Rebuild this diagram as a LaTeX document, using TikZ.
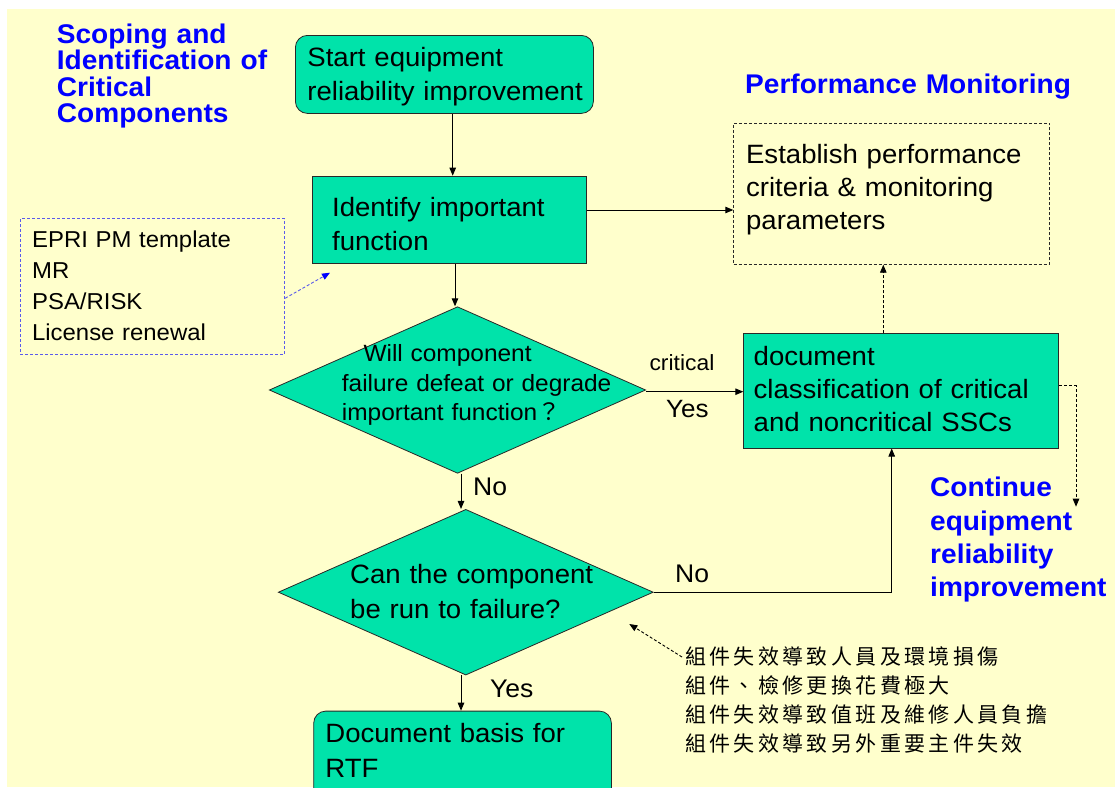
\documentclass[tikz,border=0pt]{standalone}
\usepackage{fontspec}
\setmainfont{Liberation Sans}[FakeStretch=1.04]
\newfontfamily\cjk{Noto Sans CJK TC}
\newfontfamily\cjknote{Noto Sans CJK TC}[LetterSpace=16]
\usetikzlibrary{shapes.geometric,arrows.meta}
\definecolor{pagebg}{RGB}{255,255,204}
\definecolor{boxfill}{RGB}{0,227,170}
\definecolor{boxline}{RGB}{40,40,40}
\definecolor{headblue}{RGB}{0,0,255}
\definecolor{refblue}{RGB}{90,90,235}
\begin{document}
\begin{tikzpicture}[x=1pt,y=-1pt,
  arr/.style={draw=black, line width=0.9pt, -{Triangle[length=8pt,width=6.5pt]}},
  darr/.style={arr, dash pattern=on 3pt off 2pt},
  refarr/.style={draw=refblue, line width=0.9pt, dash pattern=on 3pt off 2pt,
    -{Triangle[length=8pt,width=6.5pt,fill=headblue,color=headblue]}},
  box/.style={rectangle, draw=boxline, fill=boxfill, line width=0.8pt,
    anchor=north west, inner ysep=0pt, align=left,
    font=\fontsize{26.5}{34}\selectfont},
  dashbox/.style={box, fill=none, dash pattern=on 3pt off 2pt},
  decision/.style={diamond, draw=boxline, fill=boxfill, line width=0.8pt, inner sep=0pt},
  freetext/.style={anchor=north west, inner sep=0pt, text height=0pt,
    align=left, text width=400pt},
  headtext/.style={freetext, text=headblue, font=\bfseries\fontsize{27}{26.5}\selectfont},
]
\useasboundingbox (0,0) rectangle (1115,787);
\clip (0,0) rectangle (1115,787);
\fill[white] (0,0) rectangle (1115,787);
\fill[pagebg] (7,9) rectangle (1115,787);

% headings
\node[headtext] (scope) at (56.7,43) {Scoping and\\Identification of\\Critical\\Components};
\node[headtext] (perf) at (745,93) {Performance Monitoring};
\node[headtext, font=\bfseries\fontsize{27}{33.3}\selectfont] (contimp) at (930,496.5)
  {Continue\\equipment\\reliability\\improvement};

% process boxes
\node[box, rounded corners=12pt, inner xsep=12pt, text width=274pt,
  text height=31pt, text depth=47pt] (start) at (295,35)
  {Start equipment\\\mbox{reliability improvement}};
\node[box, inner xsep=19.7pt, text width=234.3pt,
  text height=40pt, text depth=47pt] (ident) at (312,175.7)
  {\mbox{Identify important}\\function};
\node[dashbox, inner xsep=12.4pt, text width=291.2pt,
  text height=40.6pt, text depth=100.6pt, font=\fontsize{26.5}{33}\selectfont] (estab) at (733.3,122.7)
  {\mbox{Establish performance}\\\mbox{criteria \& monitoring}\\parameters};
\node[box, inner xsep=10pt, text width=295pt,
  text height=31.7pt, text depth=82.7pt, font=\fontsize{26.5}{33}\selectfont] (doc) at (743.3,333.3)
  {document\\\mbox{classification of critical}\\\mbox{and noncritical SSCs}};
\node[box, rounded corners=12pt, inner xsep=11.7pt, text width=274.3pt,
  text height=31pt, text depth=100pt, font=\fontsize{26.5}{35}\selectfont] (basis) at (313.3,710.7)
  {\mbox{Document basis for}\\RTF};
\node[box, fill=none, draw=refblue, dash pattern=on 3pt off 2pt, inner xsep=11.7pt,
  text width=240.9pt, text height=28.4pt, text depth=107.3pt,
  font=\fontsize{23}{31}\selectfont] (epri) at (20,218.3)
  {EPRI PM template\\MR\\PSA/RISK\\License renewal};

% decisions
\node[decision, minimum width=376.4pt, minimum height=166.6pt] (d1) at (457.5,390) {};
\node[decision, minimum width=375pt, minimum height=165.7pt] (d2) at (465.8,592.2) {};
\node[freetext, font=\fontsize{23.5}{29.5}\selectfont] (q1) at (341.7,361.7)
  {\hspace*{21.6pt}Will component\\failure defeat or degrade\\important function{\cjk ？}};
\node[freetext, font=\fontsize{26.5}{35}\selectfont] (q2) at (350,583)
  {Can the component\\be run to failure?};

% branch labels
\node[freetext, font=\fontsize{22}{26}\selectfont] (lcrit) at (649.3,370) {critical};
\node[freetext, font=\fontsize{25}{30}\selectfont] (lyes1) at (666,416.7) {Yes};
\node[freetext, font=\fontsize{25.5}{30}\selectfont] (lno1) at (473,495) {No};
\node[freetext, font=\fontsize{25.5}{30}\selectfont] (lno2) at (675,581.7) {No};
\node[freetext, font=\fontsize{25.5}{30}\selectfont] (lyes2) at (490,696.7) {Yes};

% note on run-to-failure criteria
\node[freetext, font=\cjknote\fontsize{21}{29}\selectfont] (note) at (685,664)
  {組件失效導致人員及環境損傷\\組件、檢修更換花費極大\\組件失效導致值班及維修人員負擔\\組件失效導致另外重要主件失效};

% connectors
\coordinate (colA) at (452.7,0);
\coordinate (colB) at (455,0);
\coordinate (colC) at (461,0);
\coordinate (colD) at (891.7,0);
\coordinate (colE) at (883.3,0);
\coordinate (rowA) at (0,210);
\coordinate (rowB) at (0,391.7);
\coordinate (rowC) at (0,385.7);
\coordinate (rowD) at (0,298.3);
\coordinate (cont) at (1076,506.7);
\coordinate (eprtip) at (330,272.7);
\coordinate (notetip) at (629.3,624);

\draw[arr] (start.south -| colA) -- (ident.north -| colA);
\draw[arr] (ident.south -| colB) -- (d1.north -| colB);
\draw[arr] (d1.south -| colC) -- (d2.north -| colC);
\draw[arr] (d2.south -| colC) -- (basis.north -| colC);
\draw[arr] (ident.east |- rowA) -- (estab.west |- rowA);
\draw[arr] (d1.east |- rowB) -- (doc.west |- rowB);
\draw[arr] (d2.east) -- (d2.east -| colD) -- (doc.south -| colD);
\draw[darr] (doc.north -| colE) -- (estab.south -| colE);
\draw[darr] (doc.east |- rowC) -| (cont);
\draw[refarr] (epri.east |- rowD) -- (eprtip);
\draw[darr] ([shift={(-3,-7)}]note.north west) -- (notetip);
\end{tikzpicture}
\end{document}
